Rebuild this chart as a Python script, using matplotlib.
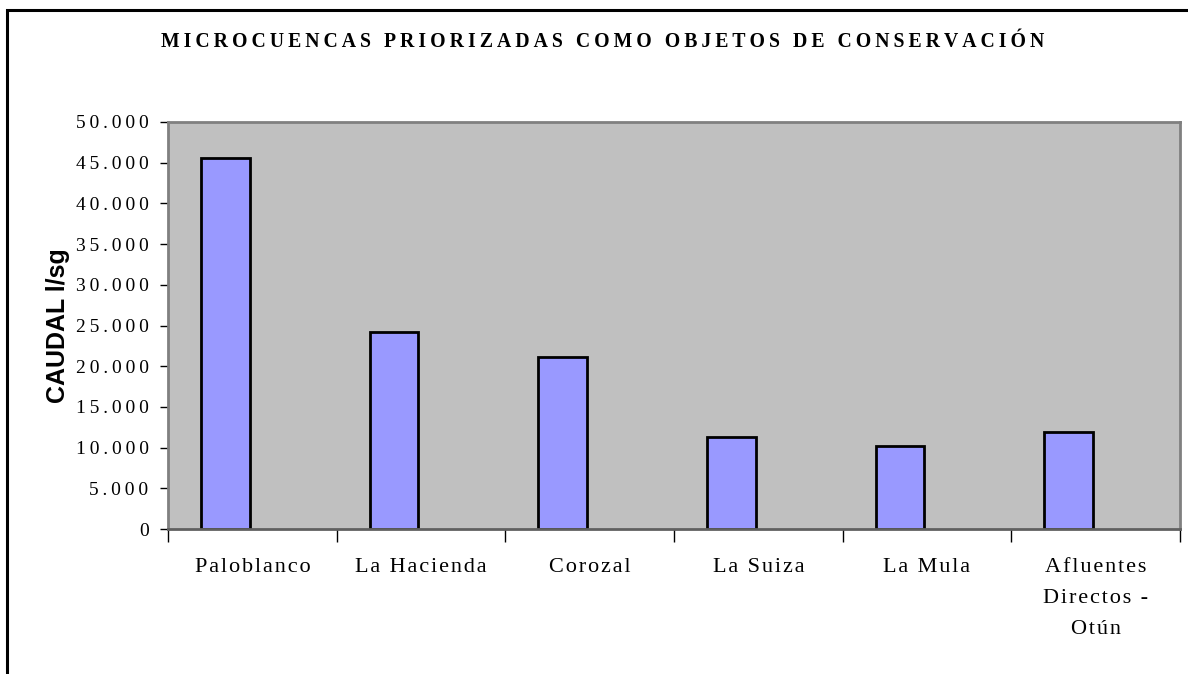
import matplotlib
matplotlib.use("Agg")
import matplotlib.pyplot as plt
from matplotlib.patches import Rectangle
from matplotlib.ticker import FixedLocator, FuncFormatter

categories = ["Paloblanco", "La Hacienda", "Corozal", "La Suiza", "La Mula",
              "Afluentes\nDirectos -\nOtún"]
caudal = [45600, 24250, 21150, 11350, 10250, 11950]

title = "MICROCUENCAS PRIORIZADAS COMO OBJETOS DE CONSERVACIÓN"
ylabel = "CAUDAL l/sg"

SERIF = "Liberation Serif"


def spaced(s, sep="\u2009"):
    # the original has wide letter spacing
    return "\n".join(sep.join(line) for line in s.split("\n"))


def miles(v, pos):
    return spaced(f"{int(v):,}".replace(",", "."))


fig = plt.figure(figsize=(11.88, 6.74), dpi=100)
fig.patches.append(Rectangle((7 / 1188, -0.05), 1.2, 1.05 - 10 / 674,
                             transform=fig.transFigure, fill=False,
                             edgecolor="black", linewidth=2.2))

ax = fig.add_axes([168 / 1188, 1 - 529 / 674, 1012 / 1188, 407 / 674])
ax.set_facecolor("#C0C0C0")

x = list(range(len(categories)))
# bars sit a bit left of the category centre in the original
ax.bar([i - 0.16 for i in x], caudal, width=0.29, color="#9999FF",
       edgecolor="black", linewidth=2)

ax.set_xlim(-0.5, len(categories) - 0.5)
ax.set_ylim(0, 50000)
ax.yaxis.set_major_locator(FixedLocator(range(0, 50001, 5000)))
ax.yaxis.set_major_formatter(FuncFormatter(miles))

ax.set_xticks(x)
ax.set_xticklabels([spaced(c, "\u200a") for c in categories], fontfamily=SERIF,
                   fontsize=16, linespacing=1.85, va="top")
ax.xaxis.set_minor_locator(FixedLocator([i - 0.5 for i in range(len(categories) + 1)]))
ax.tick_params(axis="x", which="major", length=0, pad=21)
ax.tick_params(axis="x", which="minor", length=9, width=1, color="black")
ax.tick_params(axis="y", length=6, width=1, color="black", pad=8)
for lab in ax.get_yticklabels():
    lab.set_fontfamily(SERIF)
    lab.set_fontsize(14)

for side in ["top", "right", "left"]:
    ax.spines[side].set_color("#808080")
    ax.spines[side].set_linewidth(2)
ax.spines["bottom"].set_color("#606060")
ax.spines["bottom"].set_linewidth(2)

ax.set_ylabel(ylabel, fontfamily="Liberation Sans", fontweight="heavy",
              fontsize=18, labelpad=4)

fig.text(603 / 1188, 1 - 42 / 674, spaced(title), ha="center", va="center",
         fontfamily=SERIF, fontweight="bold", fontsize=14.2)

fig.savefig("out.png", dpi=100)
